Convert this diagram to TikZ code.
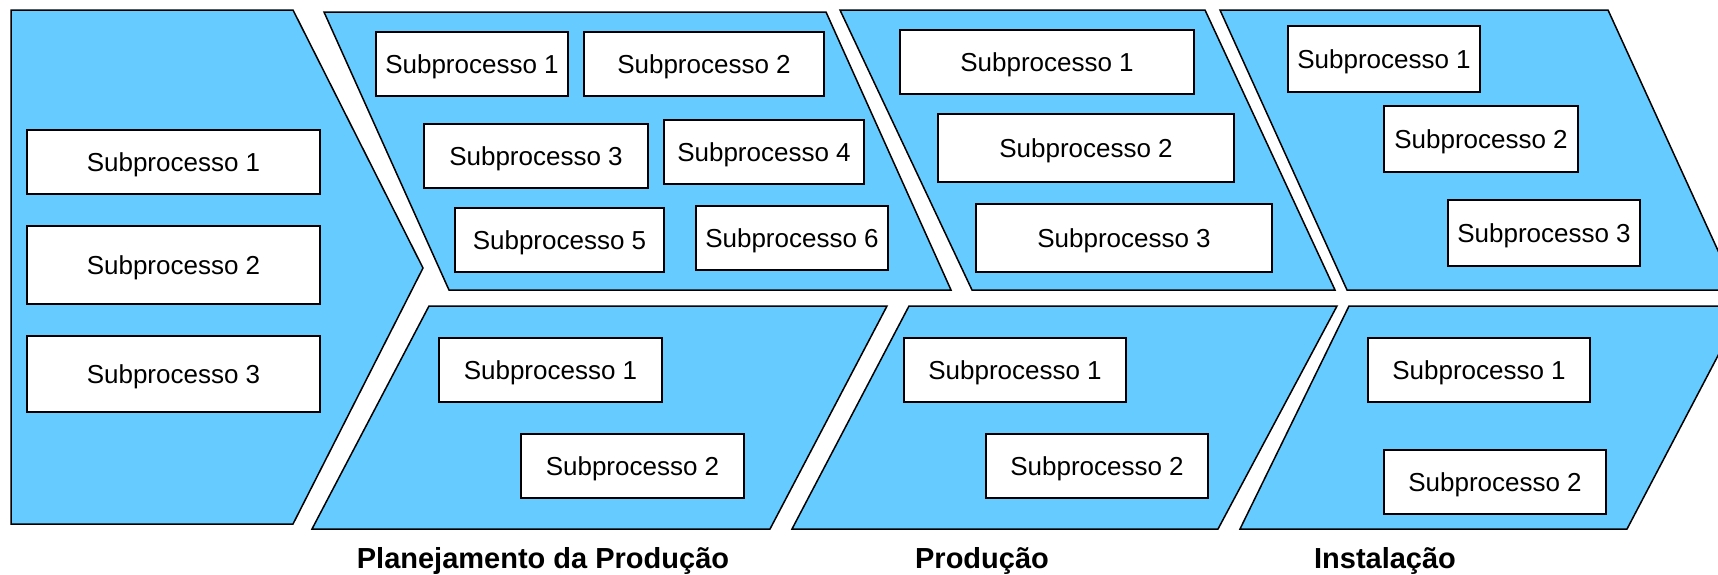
\documentclass[tikz,border=0pt]{standalone}
\usepackage{fontspec}
\setmainfont{Liberation Sans}
\definecolor{stagefill}{RGB}{102,204,255}
\newcommand{\subfont}{\fontsize{26}{30}\selectfont}
\newcommand{\lblfont}{\fontsize{29}{34}\selectfont\bfseries}
\tikzset{
  stage/.style={draw=black, line width=1.5pt, fill=stagefill, line join=miter},
  subbox/.style 2 args={draw=black, line width=1.5pt, fill=white, font=\subfont,
    inner sep=0pt, text depth=0pt, minimum width=#1pt, minimum height=#2pt},
  lbl/.style={font=\lblfont, anchor=base}
}
\begin{document}
\begin{tikzpicture}[x=1pt, y=-1pt]
\clip (0,0) rectangle (1718,574);
\fill[white] (0,0) rectangle (1718,574);

% stage shapes
\draw[stage] (11,10) -- (293,10) -- (423,268) -- (293,524) -- (11,524) -- cycle;
\draw[stage] (324,12) -- (826,12) -- (951,290) -- (449,290) -- cycle;
\draw[stage] (840,10) -- (1205,10) -- (1335,290) -- (972,290) -- cycle;
\draw[stage] (1220,10) -- (1608,10) -- (1736,290) -- (1347,290) -- cycle;
\draw[stage] (429,306) -- (887,306) -- (770,529) -- (312,529) -- cycle;
\draw[stage] (909,306) -- (1337,306) -- (1218,529) -- (792,529) -- cycle;
\draw[stage] (1349,306) -- (1744,306) -- (1627,529) -- (1240,529) -- cycle;

% first stage
\node[subbox={293}{64}] (l1) at (173.5,162) {Subprocesso 1};
\node[subbox={293}{78}] (l2) at (173.5,265) {Subprocesso 2};
\node[subbox={293}{76}] (l3) at (173.5,374) {Subprocesso 3};

% planejamento, upper part
\node[subbox={192}{64}] (p1) at (472,64) {Subprocesso 1};
\node[subbox={240}{64}] (p2) at (704,64) {Subprocesso 2};
\node[subbox={224}{64}] (p3) at (536,156) {Subprocesso 3};
\node[subbox={200}{64}] (p4) at (764,152) {Subprocesso 4};
\node[subbox={209}{64}] (p5) at (559.5,240) {Subprocesso 5};
\node[subbox={192}{64}] (p6) at (792,238) {Subprocesso 6};

% producao, upper part
\node[subbox={294}{64}] (r1) at (1047,62) {Subprocesso 1};
\node[subbox={296}{68}] (r2) at (1086,148) {Subprocesso 2};
\node[subbox={296}{68}] (r3) at (1124,238) {Subprocesso 3};

% instalacao, upper part
\node[subbox={192}{66}] (i1) at (1384,59) {Subprocesso 1};
\node[subbox={194}{66}] (i2) at (1481,139) {Subprocesso 2};
\node[subbox={192}{66}] (i3) at (1544,233) {Subprocesso 3};

% lower parts
\node[subbox={223}{64}] (q1) at (550.5,370) {Subprocesso 1};
\node[subbox={223}{64}] (q2) at (632.5,466) {Subprocesso 2};
\node[subbox={222}{64}] (s1) at (1015,370) {Subprocesso 1};
\node[subbox={222}{64}] (s2) at (1097,466) {Subprocesso 2};
\node[subbox={222}{64}] (t1) at (1479,370) {Subprocesso 1};
\node[subbox={222}{64}] (t2) at (1495,482) {Subprocesso 2};

% stage titles
\node[lbl] (plan) at (543,568) {Planejamento da Produção};
\node[lbl] (prod) at (982,568) {Produção};
\node[lbl] (inst) at (1385,568) {Instalação};
\end{tikzpicture}
\end{document}
